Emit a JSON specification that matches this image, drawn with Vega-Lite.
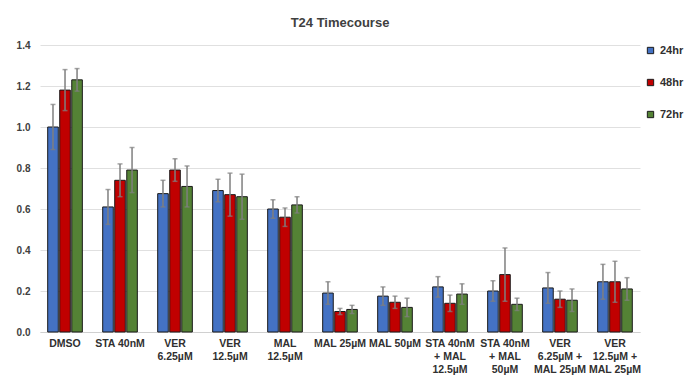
{
  "$schema": "https://vega.github.io/schema/vega-lite/v6.json",
  "width": 600,
  "height": 287,
  "padding": {"left": 16, "top": 17, "right": 4, "bottom": 6},
  "background": "white",
  "title": {"text": "T24 Timecourse", "font": "Liberation Sans", "fontSize": 13, "fontWeight": "bold", "color": "#404040", "offset": 10},
  "config": {"view": {"stroke": null}, "font": "Liberation Sans"},
  "data": {"values": [
    {"treatment": "DMSO", "time": "24hr", "value": 1.00, "err": 0.11},
    {"treatment": "DMSO", "time": "48hr", "value": 1.18, "err": 0.10},
    {"treatment": "DMSO", "time": "72hr", "value": 1.23, "err": 0.055},
    {"treatment": "STA 40nM", "time": "24hr", "value": 0.61, "err": 0.085},
    {"treatment": "STA 40nM", "time": "48hr", "value": 0.74, "err": 0.08},
    {"treatment": "STA 40nM", "time": "72hr", "value": 0.79, "err": 0.11},
    {"treatment": "VER|6.25µM", "time": "24hr", "value": 0.675, "err": 0.065},
    {"treatment": "VER|6.25µM", "time": "48hr", "value": 0.79, "err": 0.055},
    {"treatment": "VER|6.25µM", "time": "72hr", "value": 0.71, "err": 0.10},
    {"treatment": "VER|12.5µM", "time": "24hr", "value": 0.69, "err": 0.055},
    {"treatment": "VER|12.5µM", "time": "48hr", "value": 0.67, "err": 0.105},
    {"treatment": "VER|12.5µM", "time": "72hr", "value": 0.66, "err": 0.11},
    {"treatment": "MAL|12.5µM", "time": "24hr", "value": 0.60, "err": 0.045},
    {"treatment": "MAL|12.5µM", "time": "48hr", "value": 0.56, "err": 0.045},
    {"treatment": "MAL|12.5µM", "time": "72hr", "value": 0.62, "err": 0.04},
    {"treatment": "MAL 25µM", "time": "24hr", "value": 0.19, "err": 0.055},
    {"treatment": "MAL 25µM", "time": "48hr", "value": 0.10, "err": 0.015},
    {"treatment": "MAL 25µM", "time": "72hr", "value": 0.11, "err": 0.02},
    {"treatment": "MAL 50µM", "time": "24hr", "value": 0.175, "err": 0.045},
    {"treatment": "MAL 50µM", "time": "48hr", "value": 0.145, "err": 0.03},
    {"treatment": "MAL 50µM", "time": "72hr", "value": 0.12, "err": 0.045},
    {"treatment": "STA 40nM|+ MAL|12.5µM", "time": "24hr", "value": 0.22, "err": 0.05},
    {"treatment": "STA 40nM|+ MAL|12.5µM", "time": "48hr", "value": 0.14, "err": 0.04},
    {"treatment": "STA 40nM|+ MAL|12.5µM", "time": "72hr", "value": 0.185, "err": 0.05},
    {"treatment": "STA 40nM|+ MAL|50µM", "time": "24hr", "value": 0.20, "err": 0.05},
    {"treatment": "STA 40nM|+ MAL|50µM", "time": "48hr", "value": 0.28, "err": 0.13},
    {"treatment": "STA 40nM|+ MAL|50µM", "time": "72hr", "value": 0.135, "err": 0.03},
    {"treatment": "VER|6.25µM +|MAL 25µM", "time": "24hr", "value": 0.215, "err": 0.075},
    {"treatment": "VER|6.25µM +|MAL 25µM", "time": "48hr", "value": 0.16, "err": 0.04},
    {"treatment": "VER|6.25µM +|MAL 25µM", "time": "72hr", "value": 0.155, "err": 0.055},
    {"treatment": "VER|12.5µM +|MAL 25µM", "time": "24hr", "value": 0.245, "err": 0.085},
    {"treatment": "VER|12.5µM +|MAL 25µM", "time": "48hr", "value": 0.245, "err": 0.10},
    {"treatment": "VER|12.5µM +|MAL 25µM", "time": "72hr", "value": 0.21, "err": 0.055}
  ]},
  "encoding": {
    "x": {
      "field": "treatment", "type": "nominal", "sort": null, "title": null,
      "scale": {"paddingInner": 0.37, "paddingOuter": 0.14},
      "axis": {"labelExpr": "split(datum.value, '|')", "labelAngle": 0, "labelFont": "Liberation Sans", "labelFontSize": 10.5, "labelFontWeight": "bold", "labelColor": "#303030", "ticks": false, "domainColor": "#d0d0d0", "labelPadding": 6, "labelLineHeight": 13}
    },
    "xOffset": {"field": "time", "type": "nominal", "scale": {"paddingInner": 0.12}},
    "y": {
      "field": "value", "type": "quantitative", "title": null,
      "scale": {"domain": [0, 1.4]},
      "axis": {"values": [0, 0.2, 0.4, 0.6, 0.8, 1.0, 1.2, 1.4], "format": ".1f", "domain": false, "ticks": false, "gridColor": "#e0e0e0", "labelFont": "Liberation Sans", "labelFontSize": 10, "labelFontWeight": "bold", "labelColor": "#404040", "labelPadding": 10}
    }
  },
  "layer": [
    {
      "mark": {"type": "bar", "stroke": "#1a1a1a", "strokeWidth": 1},
      "encoding": {
        "color": {
          "field": "time", "type": "nominal",
          "scale": {"domain": ["24hr", "48hr", "72hr"], "range": ["#4472C4", "#C00000", "#548235"]},
          "legend": {"title": null, "orient": "right", "symbolType": "square", "symbolSize": 40, "symbolStrokeColor": "#1a1a1a", "symbolStrokeWidth": 1, "labelFont": "Liberation Sans", "labelFontSize": 11, "labelFontWeight": "bold", "labelColor": "#303030", "rowPadding": 20, "offset": 5, "padding": 0}
        }
      }
    },
    {
      "mark": {"type": "errorbar", "ticks": {"size": 5}, "color": "#7f7f7f", "thickness": 1.5},
      "encoding": {"yError": {"field": "err"}}
    }
  ]
}
